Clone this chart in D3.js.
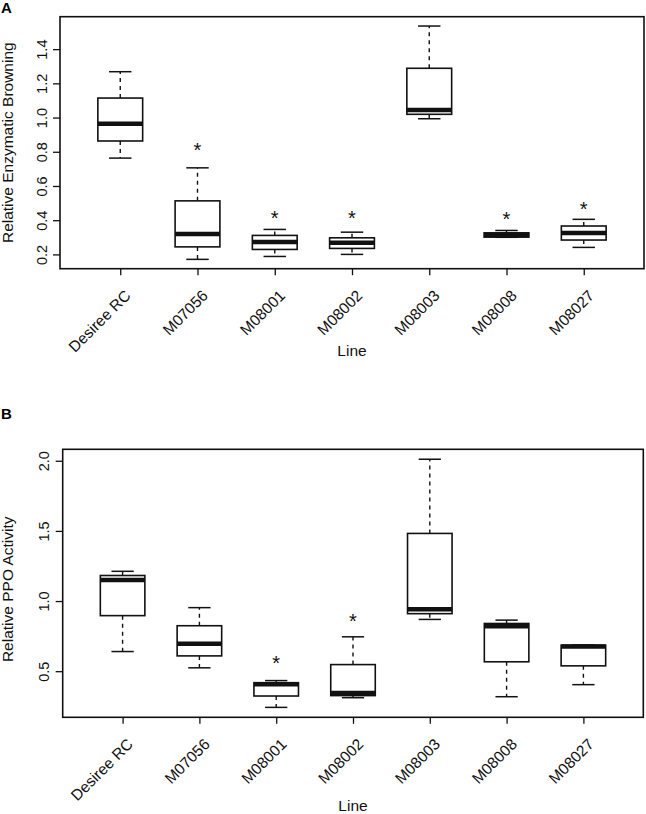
<!DOCTYPE html>
<html><head><meta charset="utf-8">
<script src="https://cdn.jsdelivr.net/npm/d3@7"></script>
<style>
body{margin:0;background:#fff}
svg{display:block}
text{font-family:"Liberation Sans",Arial,Helvetica,sans-serif}
</style>
</head><body>
<svg id="chart" width="646" height="814"></svg>
<script>
// ---- data ----
const categories = ["Desiree RC","M07056","M08001","M08002","M08003","M08008","M08027"];

// Panel A: Relative Enzymatic Browning
const lowA  = [0.763, 0.171, 0.188, 0.200, 0.993, 0.300, 0.241];
const q1A   = [0.863, 0.244, 0.229, 0.235, 1.019, 0.301, 0.284];
const medA  = [0.964, 0.320, 0.272, 0.268, 1.044, 0.315, 0.325];
const q3A   = [1.114, 0.513, 0.311, 0.297, 1.288, 0.326, 0.366];
const highA = [1.268, 0.706, 0.346, 0.330, 1.535, 0.340, 0.405];
const starA = [null, 0.835, 0.440, 0.440, null, 0.430, 0.492];
const tickLabelsA = ["0.2","0.4","0.6","0.8","1.0","1.2","1.4"];

// Panel B: Relative PPO Activity
const lowB  = [0.640, 0.524, 0.242, 0.311, 0.869, 0.318, 0.404];
const q1B   = [0.896, 0.609, 0.323, 0.326, 0.910, 0.567, 0.538];
const medB  = [1.150, 0.695, 0.406, 0.345, 0.942, 0.820, 0.676];
const q3B   = [1.182, 0.824, 0.418, 0.547, 1.482, 0.840, 0.685];
const highB = [1.212, 0.953, 0.433, 0.745, 2.011, 0.864, 0.687];
const starB = [null, null, 0.592, 0.886, null, null, null];
const tickLabelsB = ["0.5","1.0","1.5","2.0"];

const xTitle = "Line";

const panels = [
  {label:"A", yTitle:"Relative Enzymatic Browning", low:lowA, q1:q1A, med:medA, q3:q3A, high:highA, star:starA, ticks:tickLabelsA,
   x0:60, x1:644, y0:16.7, y1:268.7, labelY:13, titleY:356, yTitleShift:0},
  {label:"B", yTitle:"Relative PPO Activity", low:lowB, q1:q1B, med:medB, q3:q3B, high:highB, star:starB, ticks:tickLabelsB,
   x0:62.7, x1:643.3, y0:449.3, y1:717.3, labelY:419, titleY:811, yTitleShift:6}
];

const svg = d3.select("#chart");
const INK = "#111";

function drawPanel(p){
  const g = svg.append("g");
  const x = d3.scalePoint().domain(categories).range([p.x0, p.x1]).padding(0.78);
  const all = p.low.concat(p.high);
  const lo = d3.min(all), hi = d3.max(all), pad = (hi - lo) * 0.04;
  const y = d3.scaleLinear().domain([lo - pad, hi + pad]).range([p.y1, p.y0]);
  const bw = x.step() * 0.58;
  const idx = categories.map((c, i) => i);

  // whiskers (dashed)
  g.selectAll(".wu").data(idx).join("line")
    .attr("x1", i => x(categories[i])).attr("x2", i => x(categories[i]))
    .attr("y1", i => y(p.q3[i])).attr("y2", i => y(p.high[i]))
    .attr("stroke", INK).attr("stroke-width", 1.4).attr("stroke-dasharray", "4,4");
  g.selectAll(".wl").data(idx).join("line")
    .attr("x1", i => x(categories[i])).attr("x2", i => x(categories[i]))
    .attr("y1", i => y(p.q1[i])).attr("y2", i => y(p.low[i]))
    .attr("stroke", INK).attr("stroke-width", 1.4).attr("stroke-dasharray", "4,4");
  // staples
  g.selectAll(".su").data(idx).join("line")
    .attr("x1", i => x(categories[i]) - bw/4).attr("x2", i => x(categories[i]) + bw/4)
    .attr("y1", i => y(p.high[i])).attr("y2", i => y(p.high[i]))
    .attr("stroke", INK).attr("stroke-width", 1.5);
  g.selectAll(".sl").data(idx).join("line")
    .attr("x1", i => x(categories[i]) - bw/4).attr("x2", i => x(categories[i]) + bw/4)
    .attr("y1", i => y(p.low[i])).attr("y2", i => y(p.low[i]))
    .attr("stroke", INK).attr("stroke-width", 1.5);
  // boxes
  g.selectAll(".bx").data(idx).join("rect")
    .attr("x", i => x(categories[i]) - bw/2).attr("width", bw)
    .attr("y", i => y(p.q3[i])).attr("height", i => y(p.q1[i]) - y(p.q3[i]))
    .attr("fill", "#fff").attr("stroke", INK).attr("stroke-width", 1.6);
  // medians
  g.selectAll(".md").data(idx).join("line")
    .attr("x1", i => x(categories[i]) - bw/2).attr("x2", i => x(categories[i]) + bw/2)
    .attr("y1", i => y(p.med[i])).attr("y2", i => y(p.med[i]))
    .attr("stroke", INK).attr("stroke-width", 4.5);
  // significance stars
  const fsStar = 20;
  g.selectAll(".st").data(idx.filter(i => p.star[i] != null)).join("text")
    .attr("x", i => x(categories[i]))
    .attr("y", i => y(p.star[i]) + fsStar * 0.57)
    .attr("text-anchor", "middle").attr("font-size", fsStar).attr("fill", INK)
    .text("*");

  // plot frame
  g.append("rect").attr("x", p.x0).attr("y", p.y0)
    .attr("width", p.x1 - p.x0).attr("height", p.y1 - p.y0)
    .attr("fill", "none").attr("stroke", INK).attr("stroke-width", 1.6);

  // y axis
  const ya = d3.axisLeft(y).tickValues(p.ticks.map(Number))
    .tickFormat((d, i) => p.ticks[i]).tickSize(7);
  const gy = svg.append("g").attr("transform", `translate(${p.x0},0)`).call(ya)
    .attr("font-family", null).attr("font-size", null);
  gy.select(".domain").remove();
  gy.selectAll(".tick line").attr("stroke", INK).attr("stroke-width", 1.3);
  gy.selectAll(".tick text").attr("x", null).attr("dy", null)
    .attr("text-anchor", "middle").attr("fill", INK).attr("font-size", 14.5)
    .attr("transform", "translate(-13.5,0) rotate(-90)");

  // x axis
  const xa = d3.axisBottom(x).tickSize(6.5);
  const gx = svg.append("g").attr("transform", `translate(0,${p.y1})`).call(xa)
    .attr("font-family", null).attr("font-size", null);
  gx.select(".domain").remove();
  gx.selectAll(".tick line").attr("stroke", INK).attr("stroke-width", 1.3);
  gx.selectAll(".tick text").attr("y", null).attr("dy", null)
    .attr("text-anchor", "end").attr("dominant-baseline", "central")
    .attr("fill", INK).attr("font-size", 15.5)
    .attr("transform", "translate(7,24) rotate(-45)");

  // titles
  svg.append("text").attr("x", (p.x0 + p.x1) / 2).attr("y", p.titleY)
    .attr("text-anchor", "middle").attr("font-size", 15.5).attr("fill", INK).text(xTitle);
  svg.append("text")
    .attr("transform", `translate(12.5,${(p.y0 + p.y1) / 2 + p.yTitleShift}) rotate(-90)`)
    .attr("text-anchor", "middle").attr("font-size", 15.5).attr("fill", INK).text(p.yTitle);
  svg.append("text").attr("x", 1).attr("y", p.labelY)
    .attr("font-size", 15).attr("font-weight", "bold").attr("fill", "#000").text(p.label);
}

panels.forEach(drawPanel);
</script>
</body></html>
